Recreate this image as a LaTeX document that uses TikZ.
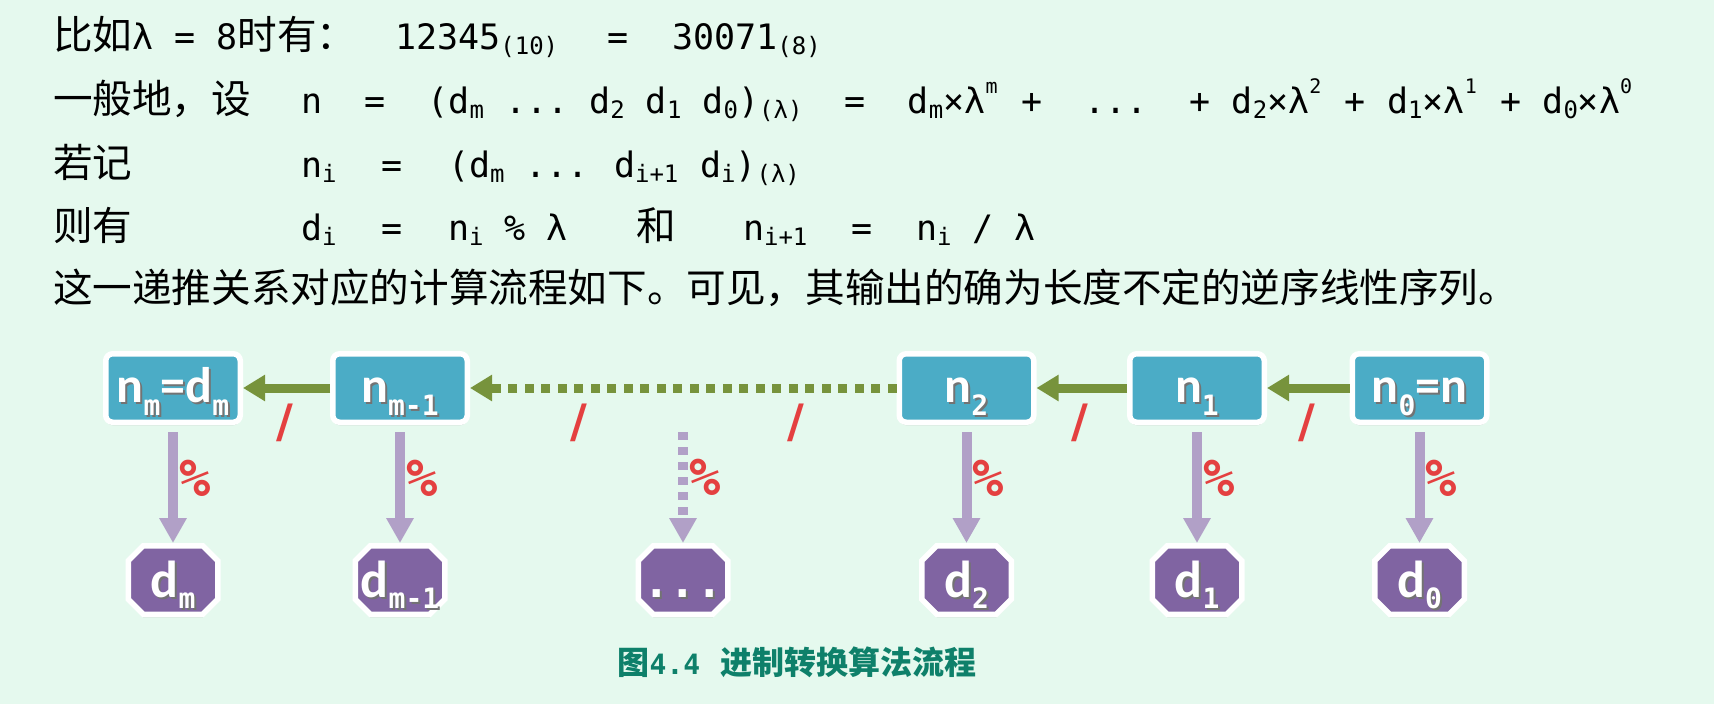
\documentclass[tikz,border=0pt]{standalone}
\usepackage{fontspec}
\usetikzlibrary{arrows.meta,shadows}
\newfontfamily\cjk{Noto Sans CJK SC}
\newfontfamily\mono{DejaVu Sans Mono}
\newfontfamily\djv{DejaVu Sans}
\newfontfamily\boxfnt{Carlito}
\definecolor{bgmint}{RGB}{229,249,238}
\definecolor{boxteal}{RGB}{75,172,198}
\definecolor{octpurple}{RGB}{128,100,162}
\definecolor{arrgreen}{RGB}{119,147,60}
\definecolor{arrlilac}{RGB}{177,160,199}
\definecolor{labred}{RGB}{228,64,64}
\definecolor{capteal}{RGB}{14,128,106}
\newcommand\zh[1]{{\cjk\fontsize{39.6pt}{44pt}\selectfont #1}}
\newcommand\lsub[1]{\raisebox{-5pt}{\fontsize{24pt}{24pt}\selectfont #1}}
\newcommand\lsup[1]{\raisebox{20pt}{\makebox[14.45pt][l]{\fontsize{20pt}{20pt}\selectfont #1}}}
\newcommand\bsub[1]{\raisebox{-13pt}{\mono\bfseries\fontsize{28pt}{28pt}\selectfont #1}}
\newcommand\osub[1]{\raisebox{-11pt}{\mono\bfseries\fontsize{28pt}{28pt}\selectfont #1}}
\newcommand\shd[1]{\makebox[0pt][l]{\hspace*{2pt}\raisebox{-2pt}{\color{black!55}#1}}#1}
\newcommand\octpath[2]{\path[oct] (#1,#2) ++(-29.75,-34.25) -- ++(59.5,0) -- ++(15,15) -- ++(0,38.5) -- ++(-15,15) -- ++(-59.5,0) -- ++(-15,-15) -- ++(0,-38.5) -- cycle;}
\tikzset{
  txt/.style={anchor=base west, inner sep=0pt, outer sep=0pt, font=\mono\fontsize{35pt}{40pt}\selectfont},
  nbox/.style={rectangle, rounded corners=7pt, fill=boxteal, draw=white, line width=5.5pt,
    minimum width=134.5pt, minimum height=68.5pt, inner sep=0pt, text=white,
    text height=34pt, text depth=6pt, font=\boxfnt\bfseries\fontsize{50pt}{50pt}\selectfont,
    drop shadow={shadow xshift=0pt, shadow yshift=-3pt, opacity=0.3}},
  oct/.style={fill=octpurple, draw=white, line width=5.5pt,
    drop shadow={shadow xshift=0pt, shadow yshift=-3pt, opacity=0.3}},
  onode/.style={rectangle, minimum width=95pt, minimum height=74pt, inner sep=0pt, outer sep=0pt,
    text=white, text height=40pt, text depth=6pt, font=\boxfnt\bfseries\fontsize{52pt}{52pt}\selectfont},
  harr/.style={draw=arrgreen, line width=9pt, -{Triangle[length=22pt,width=25pt]}},
  varr/.style={draw=arrlilac, line width=10pt, -{Triangle[length=25pt,width=26pt]}, shorten <=7pt},
  slashlbl/.style={text=labred, font=\djv\bfseries\fontsize{46pt}{46pt}\selectfont, inner sep=0pt, yshift=-35pt},
  pctlbl/.style={text=labred, font=\mono\bfseries\fontsize{52pt}{52pt}\selectfont, inner sep=0pt, xshift=22pt},
  captxt/.style={text=capteal, inner sep=0pt, font=\cjk\bfseries\fontsize{32pt}{36pt}\selectfont}
}
\begin{document}
\begin{tikzpicture}[x=1pt,y=-1pt]
\fill[bgmint] (0,0) rectangle (1714,704);
\useasboundingbox (0,0) rectangle (1714,704);
% text lines
\node[txt] (l1a) at (53,49) {\zh{比如}λ~=~8\zh{时有：}};
\node[txt] (l1b) at (395,49) {12345\lsub{(10)}};
\node[txt] (l1c) at (607,49) {=};
\node[txt] (l1d) at (672,49) {30071\lsub{(8)}};
\node[txt] (l2a) at (53,113) {\zh{一般地，设}};
\node[txt] (l2b) at (301,113) {n~~=~~(d\lsub{m}~...~d\lsub{2}~d\lsub{1}~d\lsub{0})\lsub{(λ)}~~=~~d\lsub{m}×λ\lsup{m}~+~~...~~+~d\lsub{2}×λ\lsup{2}~+~d\lsub{1}×λ\lsup{1}~+~d\lsub{0}×λ\lsup{0}};
\node[txt] (l3a) at (53,177) {\zh{若记}};
\node[txt] (l3b) at (301,177) {n\lsub{i}};
\node[txt] (l3c) at (381,177) {=};
\node[txt] (l3d) at (448,177) {(d\lsub{m}~...};
\node[txt] (l3e) at (614,177) {d\lsub{i+1}};
\node[txt] (l3f) at (700,177) {d\lsub{i})\lsub{(λ)}};
\node[txt] (l4a) at (53,240) {\zh{则有}};
\node[txt] (l4b) at (301,240) {d\lsub{i}};
\node[txt] (l4c) at (381,240) {=};
\node[txt] (l4d) at (448,240) {n\lsub{i}~\%~λ};
\node[txt] (l4e) at (636,240) {\zh{和}};
\node[txt] (l4f) at (743,240) {n\lsub{i+1}};
\node[txt] (l4g) at (851,240) {=};
\node[txt] (l4h) at (916,240) {n\lsub{i}~/~λ};
\node[txt] (l5) at (53,302) {\zh{这一递推关系对应的计算流程如下。可见，其输出的确为长度不定的逆序线性序列。}};
% boxes
\node[nbox] (b1) at (173,388) {\shd{n\bsub{m}=d\bsub{m}}};
\node[nbox] (b2) at (400,388) {\shd{n\bsub{m-1}}};
\node[nbox] (b3) at (966.5,388) {\shd{n\bsub{2}}};
\node[nbox] (b4) at (1197,388) {\shd{n\bsub{1}}};
\node[nbox] (b5) at (1419.5,388) {\shd{n\bsub{0}=n}};
% octagons
\octpath{173}{580}
\octpath{400}{580}
\octpath{683}{580}
\octpath{966.5}{580}
\octpath{1197}{580}
\octpath{1419.5}{580}
\node[onode] (o1) at (173,580) {\shd{d\osub{m}}};
\node[onode] (o2) at (400,580) {\shd{d\osub{m-1}}};
\node[onode] (o3) at (683,580) {\shd{{\mono\bfseries\fontsize{44pt}{44pt}\selectfont ...}}};
\node[onode] (o4) at (966.5,580) {\shd{d\osub{2}}};
\node[onode] (o5) at (1197,580) {\shd{d\osub{1}}};
\node[onode] (o6) at (1419.5,580) {\shd{d\osub{0}}};
% horizontal connectors
\draw[harr] (b2) -- node[slashlbl,pos=0.52]{/} (b1);
\draw[harr, dash pattern=on 9pt off 7.5pt] (b3) -- node[slashlbl,pos=0.237]{/} node[slashlbl,pos=0.744]{/} (b2);
\draw[harr] (b4) -- node[slashlbl,pos=0.52]{/} (b3);
\draw[harr] (b5) -- node[slashlbl,pos=0.52]{/} (b4);
% vertical connectors
\draw[varr] (b1) -- node[pctlbl,pos=0.45]{\%} (o1);
\draw[varr] (b2) -- node[pctlbl,pos=0.45]{\%} (o2);
\coordinate (dtop) at (683,432);
\draw[varr, shorten <=0pt, dash pattern=on 8pt off 7pt] (dtop) -- node[pctlbl,pos=0.41]{\%} (o3);
\draw[varr] (b3) -- node[pctlbl,pos=0.45]{\%} (o4);
\draw[varr] (b4) -- node[pctlbl,pos=0.45]{\%} (o5);
\draw[varr] (b5) -- node[pctlbl,pos=0.45]{\%} (o6);
% caption
\node[captxt] (cap) at (797,662) {图{\mono\bfseries\fontsize{28pt}{32pt}\selectfont 4.4}\hspace{20pt}进制转换算法流程};
\end{tikzpicture}
\end{document}
